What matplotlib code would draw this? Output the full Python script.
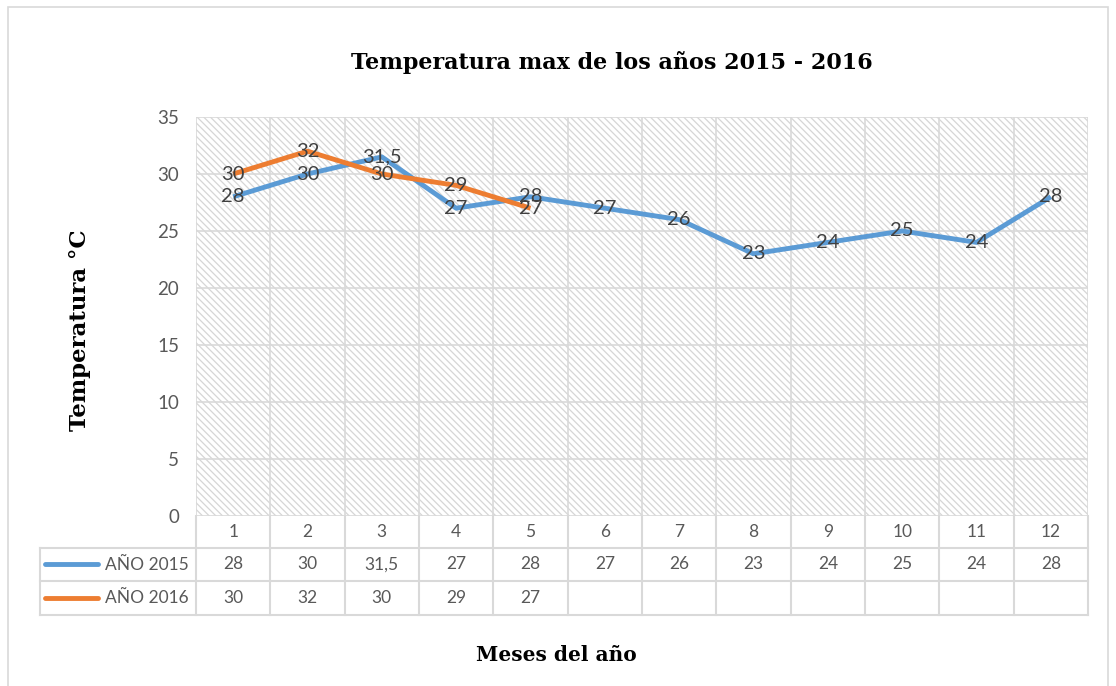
import matplotlib
matplotlib.use('Agg')
import matplotlib.pyplot as plt
from matplotlib.patches import Rectangle
import matplotlib.transforms as mtransforms

meses = [1, 2, 3, 4, 5, 6, 7, 8, 9, 10, 11, 12]
temp_2015 = [28, 30, 31.5, 27, 28, 27, 26, 23, 24, 25, 24, 28]
temp_2016 = [30, 32, 30, 29, 27]
series_names = ['AÑO 2015', 'AÑO 2016']
colors = ['#5B9BD5', '#ED7D31']
y_ticks = [0, 5, 10, 15, 20, 25, 30, 35]

grid_c = '#D9D9D9'
txt_c = '#595959'
sans = 'Lato'
serif = 'DejaVu Serif'


def fmt(v):
    return str(v).replace('.', ',') if v != int(v) else str(int(v))


fig = plt.figure(figsize=(11.16, 6.86), dpi=100)
# chart border
fig.patches.append(Rectangle((8 / 1116, -0.05), 1100 / 1116, 1 - 7 / 686 + 0.05,
                             transform=fig.transFigure, fill=False,
                             edgecolor=grid_c, linewidth=1.2))

ax = fig.add_axes([196 / 1116, 1 - 516 / 686, 892 / 1116, 399 / 686])
ax.set_xlim(0.5, 12.5)
ax.set_ylim(0, 35)
for s in ax.spines.values():
    s.set_visible(False)

# hatched background
plt.rcParams['hatch.linewidth'] = 0.9
ax.add_patch(Rectangle((0.5, 0), 12, 35, facecolor='white', edgecolor='#D6D6D6',
                       hatch='\\\\\\\\\\', linewidth=0, zorder=0))

for y in y_ticks:
    ax.axhline(y, color=grid_c, lw=1.2, zorder=1)
for i in range(13):
    ax.axvline(0.5 + i, color=grid_c, lw=1.2, zorder=1)

ax.set_xticks([])
ax.set_yticks(y_ticks)
ax.tick_params(axis='y', length=0, pad=12, labelsize=13.5, labelcolor=txt_c)
for lab in ax.get_yticklabels():
    lab.set_fontfamily(sans)

for vals, c in zip([temp_2015, temp_2016], colors):
    ax.plot(meses[:len(vals)], vals, color=c, lw=3.5, zorder=3,
            solid_capstyle='butt', solid_joinstyle='round')
    for x, v in zip(meses, vals):
        ax.text(x, v, fmt(v), ha='center', va='center', fontsize=14.5,
                color='#404040', family=sans, zorder=4)

# data table below the plot
tr = mtransforms.blended_transform_factory(ax.transData, ax.transAxes)
rows = [0, -0.0802, -0.1629, -0.2481]
left = 0.5 - 156 / (892 / 12)
kw = dict(color=grid_c, lw=1.5, transform=tr, clip_on=False)
for i in range(13):
    ax.plot([0.5 + i, 0.5 + i], [rows[0], rows[-1]], **kw)
ax.plot([left, left], [rows[1], rows[-1]], **kw)
for r in rows[1:]:
    ax.plot([left, 12.5], [r, r], **kw)

ymid = [(rows[k] + rows[k + 1]) / 2 for k in range(3)]
for x in meses:
    ax.text(x, ymid[0], str(x), ha='center', va='center', fontsize=12.5,
            color=txt_c, family=sans, transform=tr)
for k, (vals, c, name) in enumerate(zip([temp_2015, temp_2016], colors, series_names)):
    y = ymid[k + 1]
    for x, v in zip(meses, vals):
        ax.text(x, y, fmt(v), ha='center', va='center', fontsize=12.5,
                color=txt_c, family=sans, transform=tr)
    ax.plot([left + 0.07, left + 0.78], [y, y], color=c, lw=3.5,
            transform=tr, clip_on=False, solid_capstyle='round')
    ax.text(0.5 - 0.1, y, name, ha='right', va='center', fontsize=12.5,
            color=txt_c, family=sans, transform=tr)

fig.text(612 / 1116, 1 - 62 / 686, 'Temperatura max de los años 2015 - 2016',
         ha='center', va='center', fontsize=16, fontweight='bold',
         family=serif, color='black')
fig.text(556 / 1116, 1 - 655 / 686, 'Meses del año', ha='center', va='center',
         fontsize=14.5, fontweight='bold', family=serif, color='black')
fig.text(80 / 1116, 1 - 330 / 686, 'Temperatura °C', ha='center', va='center',
         rotation=90, fontsize=16.5, fontweight='bold', family=serif, color='black')

fig.savefig('out.png', dpi=100)
